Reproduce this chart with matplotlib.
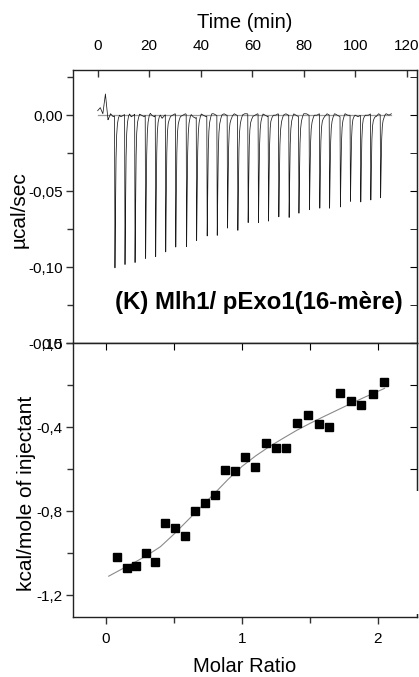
"""ITC plot: raw thermogram on top, integrated heats below."""
import matplotlib
matplotlib.use("Agg")
import matplotlib.pyplot as plt
import numpy as np
from matplotlib.patches import Rectangle
from matplotlib.ticker import FixedLocator, MultipleLocator

plt.rcParams['font.family'] = ['Liberation Sans', 'DejaVu Sans']

# ..................................................................................
# raw thermogram
inj_times = [6.7, 10.6, 14.5, 18.6, 22.5, 26.4, 30.3, 34.5, 38.4, 42.5, 46.4,
             50.4, 54.4, 58.4, 62.4, 66.3, 70.3, 74.3, 78.1, 82.2, 86.2, 90.0,
             94.2, 98.1, 102.1, 106.0, 109.8]
inj_depths = [-0.1002, -0.0989, -0.0980, -0.0945, -0.0936, -0.0904, -0.0875,
              -0.0870, -0.0813, -0.0790, -0.0787, -0.0743, -0.0754, -0.0713,
              -0.0713, -0.0693, -0.0673, -0.0673, -0.0636, -0.0620, -0.0620,
              -0.0612, -0.0596, -0.0568, -0.0572, -0.0568, -0.0546]
# baseline wiggle, one value per minute from t=0, in 1e-3 ucal/sec
base_noise = [3, 5, 1, 14, -3, 1, -1, 0, 1, -1, 0, 1, 2, -1, 0, 2, 1, 0, -1,
              1, 2, 0, -1, 2, 1, -2, 0, 1, -1, 0, 1, 0, -1, 0, 1, 0, 1, -1,
              -2, 0, 1, 0, -1, 0, 1, 1, 0, -1, 0, 1, 0, 0, -1, 1, 0, -1, 0,
              1, 1, 0, -1, 0, 1, 0, 1, 0, -1, 1, 0, 0, 1, -1, 0, 1, 0, 0, 1,
              0, -1, 0, 1, 1, 0, -1, 0, 0, 1, 0, -1, 1, 0, 0, 1, 0, -1, 0, 1,
              0, 0, 1, 0, -1, 0, 1, 0, 0, 1, 0, -1, 1, 0, 0, 1, 0, 1]
# shape of one injection peak (minutes after injection, fraction of depth)
peak_dt = [-0.15, 0.0, 0.1, 0.25, 0.4, 0.6, 0.9, 1.3, 1.8]
peak_frac = [0.0, 1.0, 0.85, 0.55, 0.3, 0.15, 0.07, 0.03, 0.0]

# integrated heats
molar_ratio = [0.083, 0.153, 0.221, 0.293, 0.364, 0.435, 0.509, 0.580, 0.654,
               0.726, 0.800, 0.873, 0.947, 1.023, 1.100, 1.176, 1.252, 1.328,
               1.407, 1.486, 1.565, 1.643, 1.722, 1.800, 1.880, 1.963, 2.047]
heats = [-1.019, -1.071, -1.062, -1.000, -1.044, -0.857, -0.880, -0.917,
         -0.800, -0.762, -0.724, -0.605, -0.611, -0.543, -0.590, -0.478,
         -0.498, -0.500, -0.380, -0.341, -0.386, -0.400, -0.237, -0.278,
         -0.295, -0.243, -0.184]
fit_x = [0.02, 0.1, 0.2, 0.3, 0.4, 0.5, 0.6, 0.7, 0.8, 0.9, 1.0, 1.1, 1.2,
         1.3, 1.4, 1.5, 1.6, 1.7, 1.8, 1.9, 2.05]
fit_y = [-1.110, -1.082, -1.048, -1.012, -0.970, -0.910, -0.845, -0.780,
         -0.715, -0.648, -0.588, -0.538, -0.494, -0.455, -0.417, -0.383,
         -0.351, -0.320, -0.289, -0.259, -0.216]


def comma(vals, fmt):
    return [fmt.format(v).replace('.', ',') for v in vals]


def style_ticks(ax, xlab_top):
    """Outward ticks on the labelled sides, inward ticks on the others."""
    for side in ('top', 'bottom', 'left', 'right'):
        ax.spines[side].set_linewidth(1.0)
        ax.spines[side].set_color('#222222')
    ax.tick_params(which='both', labelsize=11, width=1.0, color='#333333')
    ax.tick_params(which='major', length=5)
    ax.tick_params(which='minor', length=4)
    ax.tick_params(axis='y', direction='out', left=True, right=False, pad=2)
    if xlab_top:
        ax.tick_params(axis='x', direction='in', top=True, bottom=False,
                       labeltop=True, labelbottom=False, pad=12)
    else:
        ax.tick_params(axis='x', direction='out', top=False, bottom=True, pad=6)


W, H = 419, 677
fig = plt.figure(figsize=(W / 100, H / 100), dpi=100)
left, right = 72.7 / W, 417.2 / W

# ..................................................................................
ax1 = fig.add_axes([left, (H - 343) / H, right - left, 273 / H])
t = np.arange(0.0, 114.0, 0.02)
trace = np.interp(t, np.arange(len(base_noise)), np.array(base_noise) * 1e-3)
for ti, depth in zip(inj_times, inj_depths):
    trace += depth * np.interp(t - ti, peak_dt, peak_frac, left=0, right=0)
ax1.plot([0, 114], [0, 0], color='#9a9a9a', lw=0.9)
ax1.plot(t, trace, color='#1a1a1a', lw=0.55)
ax1.set_xlim(-9.7, 124)
ax1.set_ylim(-0.15, 0.0298)
ax1.xaxis.set_major_locator(MultipleLocator(20))
ax1.xaxis.set_minor_locator(MultipleLocator(10))
y1_ticks = [0.0, -0.05, -0.10, -0.15]
ax1.yaxis.set_major_locator(FixedLocator(y1_ticks))
ax1.set_yticklabels(comma(y1_ticks, '{:.2f}'))
ax1.yaxis.set_minor_locator(MultipleLocator(0.025))
style_ticks(ax1, xlab_top=True)
ax1.xaxis.set_label_position('top')
ax1.set_xlabel('Time (min)', fontsize=14.5, labelpad=8)
ax1.set_ylabel('µcal/sec', fontsize=15)
ax1.yaxis.set_label_coords(-0.127, 0.49)
ax1.text(0.124, 0.147, '(K) Mlh1/ pExo1(16-mère)', transform=ax1.transAxes,
         fontsize=17.3, fontweight='bold', va='center', ha='left')
r1 = ax1.secondary_yaxis('right')
r1.yaxis.set_major_locator(FixedLocator(y1_ticks))
r1.yaxis.set_minor_locator(MultipleLocator(0.025))
r1.tick_params(which='both', direction='in', length=5, labelright=False)

# ..................................................................................
ax2 = fig.add_axes([left, (H - 616.7) / H, right - left, 273.7 / H])
ax2.plot(fit_x, fit_y, color='#8a8a8a', lw=0.8, zorder=2)
ax2.plot(molar_ratio, heats, 's', color='black', markersize=6, zorder=3)
ax2.set_xlim(-0.245, 2.29)
ax2.set_ylim(-1.303, 0.0)
ax2.xaxis.set_major_locator(FixedLocator([0, 1, 2]))
ax2.set_xticklabels(['0', '1', '2'])
ax2.xaxis.set_minor_locator(MultipleLocator(0.5))
y2_ticks = [0.0, -0.4, -0.8, -1.2]
ax2.yaxis.set_major_locator(FixedLocator(y2_ticks))
ax2.set_yticklabels(comma(y2_ticks, '{:.1f}'))
ax2.yaxis.set_minor_locator(MultipleLocator(0.2))
style_ticks(ax2, xlab_top=False)
ax2.set_xlabel('Molar Ratio', fontsize=14.5, labelpad=8)
ax2.set_ylabel('kcal/mole of injectant', fontsize=15)
ax2.yaxis.set_label_coords(-0.107, 0.45)
t2 = ax2.secondary_xaxis('top')
t2.xaxis.set_major_locator(MultipleLocator(0.5))
t2.tick_params(direction='in', length=5, labeltop=False)
r2 = ax2.secondary_yaxis('right')
r2.yaxis.set_major_locator(MultipleLocator(0.2))
r2.tick_params(direction='in', length=5, labelright=False)

# white patch that hides part of the right frame in the original
fig.patches.append(Rectangle((275 / W, (H - 614) / H), 144 / W, 123 / H,
                             transform=fig.transFigure, facecolor='white',
                             edgecolor='none', zorder=10))

fig.savefig('out.png', dpi=100)
